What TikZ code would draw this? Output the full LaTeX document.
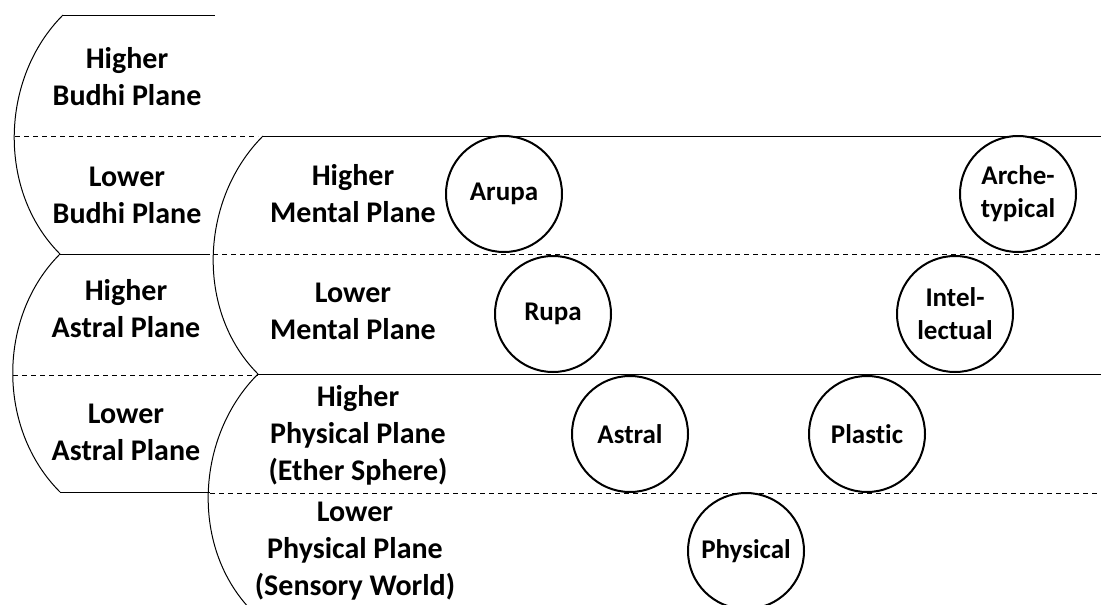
\documentclass[tikz,border=0pt]{standalone}
\usepackage{fontspec}
\setmainfont{Carlito}[Ligatures=NoCommon]
\begin{document}
\begin{tikzpicture}[x=1pt,y=-1pt,
  solidln/.style={draw=black,line width=1pt},
  dashln/.style={draw=black,line width=1pt,dash pattern=on 5pt off 4pt},
  arcln/.style={draw=black,line width=1pt},
  plane/.style={align=center,inner sep=0pt,font=\fontsize{30}{37}\selectfont\bfseries},
  orb/.style={circle,draw=black,line width=2pt,minimum size=116pt,inner sep=0pt,align=center,font=\fontsize{27}{33}\selectfont\bfseries}]
\clip (0,0) rectangle (1101,605);
% left column: Budhi and Astral
\draw[arcln] (63,15) .. controls (0,78) and (-3,191) .. (60,254);
\draw[arcln] (60,254) .. controls (-3,317) and (-3,429) .. (60,492);
\draw[solidln] (63,15) -- (215,15);
\draw[dashln] (15,136) -- (258,136);
\draw[solidln] (60,254) -- (210,254);
\draw[dashln] (13,375) -- (258,375);
\draw[solidln] (60,492) -- (210,492);
% right column: Mental and Physical
\draw[arcln] (263,136) .. controls (200,199) and (195,311) .. (258,374);
\draw[arcln] (258,374) .. controls (195,437) and (190,549) .. (253,612);
\draw[solidln] (263,136) -- (1101,136);
\draw[dashln] (213,254) -- (1101,254);
\draw[solidln] (258,374) -- (1101,374);
\draw[dashln] (210,493) -- (1101,493);
% plane labels
\node[plane] (hb) at (127,76.5) {Higher\\Budhi Plane};
\node[plane] (lb) at (127,195) {Lower\\Budhi Plane};
\node[plane] (ha) at (126,309) {Higher\\Astral Plane};
\node[plane] (la) at (126,432) {Lower\\Astral Plane};
\node[plane] (hm) at (353,194) {Higher\\Mental Plane};
\node[plane] (lm) at (353,311.5) {Lower\\Mental Plane};
\node[plane] (hp) at (358,435.5) {Higher\\Physical Plane\\(Ether Sphere)};
\node[plane] (lp) at (355,551) {Lower\\Physical Plane\\(Sensory World)};
% circles
\node[orb] (arupa) at (504,194) {Arupa};
\node[orb] (arche) at (1018,194) {Arche-\\typical};
\node[orb] (rupa) at (553,314) {Rupa};
\node[orb] (intel) at (955,314) {Intel-\\lectual};
\node[orb] (astral) at (630,434) {Astral};
\node[orb] (plastic) at (867,434) {Plastic};
\node[orb] (physical) at (746,551) {Physical};
\end{tikzpicture}
\end{document}
